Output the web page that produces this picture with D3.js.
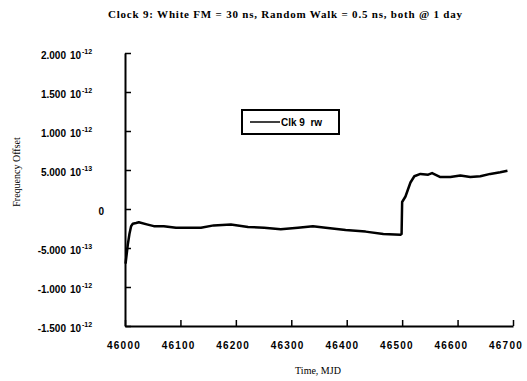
<!DOCTYPE html>
<html>
<head>
<meta charset="utf-8">
<script src="https://cdn.jsdelivr.net/npm/d3@7"></script>
<style>
  body { margin: 0; background: #fff; }
  svg { display: block; }
</style>
</head>
<body>
<div id="chart"></div>
<script>
// DATA

var mjd = [46001, 46003, 46005, 46008, 46011, 46014, 46020, 46025, 46041, 46052,
           46070, 46092, 46137, 46160, 46191, 46222, 46251, 46281, 46312, 46339,
           46362, 46398, 46434, 46466, 46497, 46499, 46500, 46506, 46510, 46515,
           46522, 46533, 46547, 46554, 46569, 46587, 46605, 46623, 46641, 46659,
           46677, 46690];
var offset = [-7.0e-13, -5.8e-13, -4.6e-13, -3.2e-13, -2.2e-13, -1.9e-13, -1.8e-13, -1.7e-13, -2.0e-13, -2.2e-13,
              -2.2e-13, -2.4e-13, -2.4e-13, -2.1e-13, -2.0e-13, -2.3e-13, -2.4e-13, -2.6e-13, -2.4e-13, -2.2e-13,
              -2.4e-13, -2.7e-13, -2.9e-13, -3.2e-13, -3.3e-13, -3.2e-13, 0.9e-13, 1.6e-13, 2.4e-13, 3.4e-13,
              4.2e-13, 4.5e-13, 4.4e-13, 4.6e-13, 4.1e-13, 4.1e-13, 4.3e-13, 4.1e-13, 4.2e-13, 4.5e-13,
              4.7e-13, 4.9e-13];

var xTicks = [46000, 46100, 46200, 46300, 46400, 46500, 46600, 46700];
var yTicks = [2e-12, 1.5e-12, 1e-12, 5e-13, 0, -5e-13, -1e-12, -1.5e-12];
var yMant = ["2.000", "1.500", "1.000", "5.000", "0", "-5.000", "-1.000", "-1.500"];
var yExp = ["-12", "-12", "-12", "-13", "", "-13", "-12", "-12"];

var title = "Clock 9:  White FM = 30 ns, Random Walk = 0.5 ns, both @ 1 day";
var seriesName = "Clk 9  rw";

// CHART

var width = 527;
var height = 381;
var plotLeft = 125, plotRight = 513, plotTop = 53, plotBottom = 326;

var x = d3.scaleLinear()
    .domain([46000, 46700])
    .range([plotLeft, plotRight]);

// labels under the x axis drift a little left of their ticks in the original
var xLab = d3.scaleLinear()
    .domain([46000, 46700])
    .range([plotLeft - 1, plotRight - 7]);

var y = d3.scaleLinear()
    .domain([-1.5e-12, 2e-12])
    .range([plotBottom, plotTop]);

var svg = d3.select("#chart")
    .append("svg")
    .attr("width", width)
    .attr("height", height);

// title
svg.append("text")
    .attr("x", 285)
    .attr("y", 18)
    .attr("text-anchor", "middle")
    .attr("textLength", 354)
    .style("font-family", "'Liberation Serif', serif")
    .style("font-weight", "bold")
    .style("font-size", "11px")
    .text(title);

// axes
var xAxis = svg.append("g")
    .attr("transform", "translate(0," + plotBottom + ")")
    .call(d3.axisBottom(x).tickValues(xTicks).tickSizeInner(-6).tickSizeOuter(0).tickFormat(""));

var yAxis = svg.append("g")
    .attr("transform", "translate(" + plotLeft + ",0)")
    .call(d3.axisLeft(y).tickValues(yTicks).tickSizeInner(-6).tickSizeOuter(0).tickFormat(""));

[xAxis, yAxis].forEach(function (g) {
    g.select(".domain").attr("stroke", "#000").attr("stroke-width", 2);
    g.selectAll(".tick line").attr("stroke", "#000").attr("stroke-width", 1.5);
});

// x tick labels
svg.selectAll("text.xlab")
    .data(xTicks)
    .enter()
    .append("text")
    .attr("class", "xlab")
    .attr("x", function (d) { return xLab(d); })
    .attr("y", 349)
    .attr("text-anchor", "middle")
    .style("font-family", "'Liberation Sans', Arial, sans-serif")
    .style("font-weight", "bold")
    .style("font-size", "10px")
    .style("letter-spacing", "1.2px")
    .text(function (d) { return d; });

// y tick labels, mantissa then 10 with exponent
var ylab = svg.selectAll("g.ylab")
    .data(yTicks)
    .enter()
    .append("g")
    .attr("class", "ylab")
    .attr("transform", function (d) { return "translate(0," + (y(d) + 6) + ")"; })
    .style("font-family", "'Liberation Sans', Arial, sans-serif")
    .style("font-weight", "bold")
    .style("font-size", "10px");

ylab.append("text")
    .attr("x", function (d, i) { return yMant[i] == "0" ? 104 : 66; })
    .attr("text-anchor", "end")
    .text(function (d, i) { return yMant[i]; });

ylab.filter(function (d, i) { return yExp[i] != ""; })
    .append("text")
    .attr("x", 70)
    .text("10");

ylab.filter(function (d, i) { return yExp[i] != ""; })
    .append("text")
    .attr("x", 82)
    .attr("y", -5)
    .style("font-size", "7px")
    .text(function (d) { return yExp[yTicks.indexOf(d)]; });

// axis titles
svg.append("text")
    .attr("x", 318)
    .attr("y", 374)
    .attr("text-anchor", "middle")
    .style("font-family", "'Liberation Serif', serif")
    .style("font-size", "10px")
    .text("Time, MJD");

svg.append("text")
    .attr("transform", "translate(20,172) rotate(-90)")
    .attr("text-anchor", "middle")
    .style("font-family", "'Liberation Serif', serif")
    .style("font-size", "10px")
    .text("Frequency Offset");

// series line
var line = d3.line()
    .x(function (d) { return x(d[0]); })
    .y(function (d) { return y(d[1]); });

svg.append("path")
    .datum(d3.zip(mjd, offset))
    .attr("d", line)
    .attr("fill", "none")
    .attr("stroke", "#000")
    .attr("stroke-width", 2.5)
    .attr("stroke-linejoin", "round");

// legend
var legend = svg.append("g");

legend.append("rect")
    .attr("x", 242)
    .attr("y", 110)
    .attr("width", 97)
    .attr("height", 24)
    .attr("fill", "#fff")
    .attr("stroke", "#000")
    .attr("stroke-width", 2);

legend.append("line")
    .attr("x1", 250)
    .attr("x2", 280)
    .attr("y1", 122)
    .attr("y2", 122)
    .attr("stroke", "#000")
    .attr("stroke-width", 1.5);

legend.append("text")
    .attr("x", 281)
    .attr("y", 126)
    .style("font-family", "'Liberation Sans', Arial, sans-serif")
    .style("font-weight", "bold")
    .style("font-size", "10px")
    .style("white-space", "pre")
    .text(seriesName);
</script>
</body>
</html>
